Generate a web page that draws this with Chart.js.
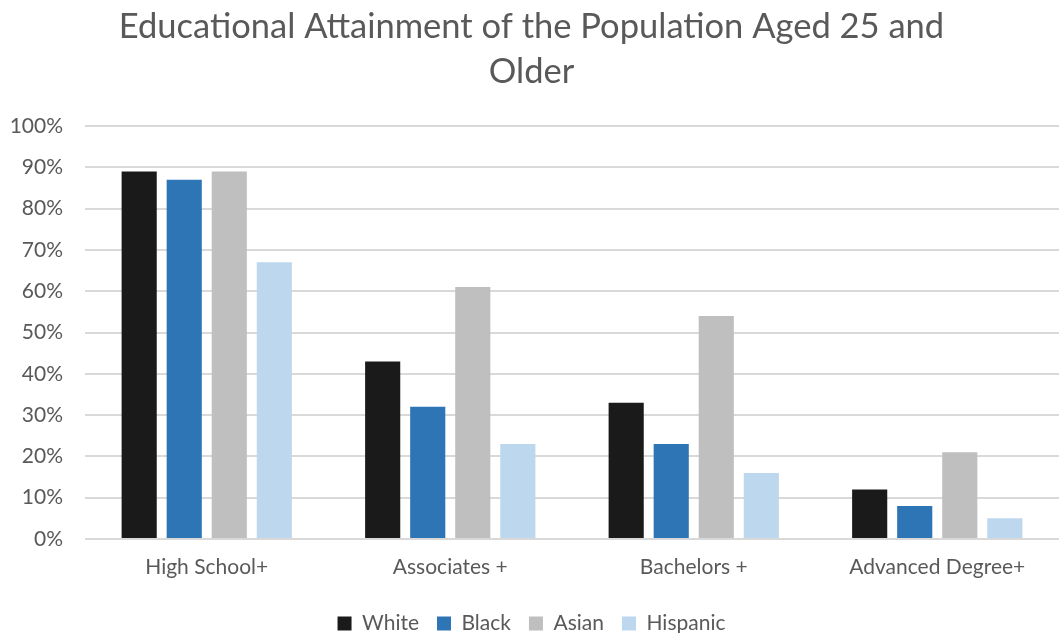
<!DOCTYPE html>
<html>
<head>
<meta charset="utf-8">
<script src="https://cdn.jsdelivr.net/npm/chart.js@4"></script>
<style>
  html, body { margin: 0; padding: 0; background: #fff; }
  #wrap { width: 1059px; height: 633px; }
</style>
</head>
<body>
<div id="wrap"><canvas id="barChart"></canvas></div>
<script>
var categories = ['High School+', 'Associates +', 'Bachelors +', 'Advanced Degree+'];
var white = [89, 43, 33, 12];
var black = [87, 32, 23, 8];
var asian = [89, 61, 54, 21];
var hispanic = [67, 23, 16, 5];
var yTicks = [0, 10, 20, 30, 40, 50, 60, 70, 80, 90, 100];

var textColor = '#595959';
var fontFamily = 'Lato, "Open Sans", sans-serif';

function series(label, values, color) {
    return {
        label: label,
        data: values,
        backgroundColor: color,
        borderWidth: 0,
        barPercentage: 0.78,
        categoryPercentage: 0.74
    };
}

var ctx = document.getElementById('barChart').getContext('2d');
new Chart(ctx, {
    type: 'bar',
    data: {
        labels: categories,
        datasets: [
            series('White', white, '#1a1a1a'),
            series('Black', black, '#2e75b6'),
            series('Asian', asian, '#bfbfbf'),
            series('Hispanic', hispanic, '#bdd7ee')
        ]
    },
    options: {
        responsive: true,
        maintainAspectRatio: false,
        animation: false,
        layout: { padding: { left: 4, right: 0, top: 4, bottom: -11 } },
        plugins: {
            title: {
                display: true,
                text: ['Educational Attainment of the Population Aged 25 and', 'Older'],
                color: textColor,
                font: { family: fontFamily, size: 34.5, weight: 'normal', lineHeight: 1.32 },
                padding: { top: 0, bottom: 31 }
            },
            legend: {
                position: 'bottom',
                labels: {
                    color: textColor,
                    font: { family: fontFamily, size: 21 },
                    boxWidth: 14,
                    boxHeight: 14,
                    padding: 18
                }
            },
            tooltip: { enabled: false }
        },
        scales: {
            x: {
                grid: { display: false },
                border: { display: false },
                ticks: { color: textColor, font: { family: fontFamily, size: 21 }, padding: 8 },
                afterFit: function (scale) { scale.height = 56; }
            },
            y: {
                min: 0,
                max: 100,
                afterBuildTicks: function (axis) {
                    axis.ticks = yTicks.map(function (v) { return { value: v }; });
                },
                grid: { color: '#d9d9d9', lineWidth: 2, drawTicks: false },
                border: { display: false },
                ticks: {
                    color: textColor,
                    font: { family: fontFamily, size: 21 },
                    padding: 22,
                    callback: function (v) { return v + '%'; }
                },
                afterFit: function (scale) { scale.width = 81; }
            }
        }
    }
});
</script>
</body>
</html>
